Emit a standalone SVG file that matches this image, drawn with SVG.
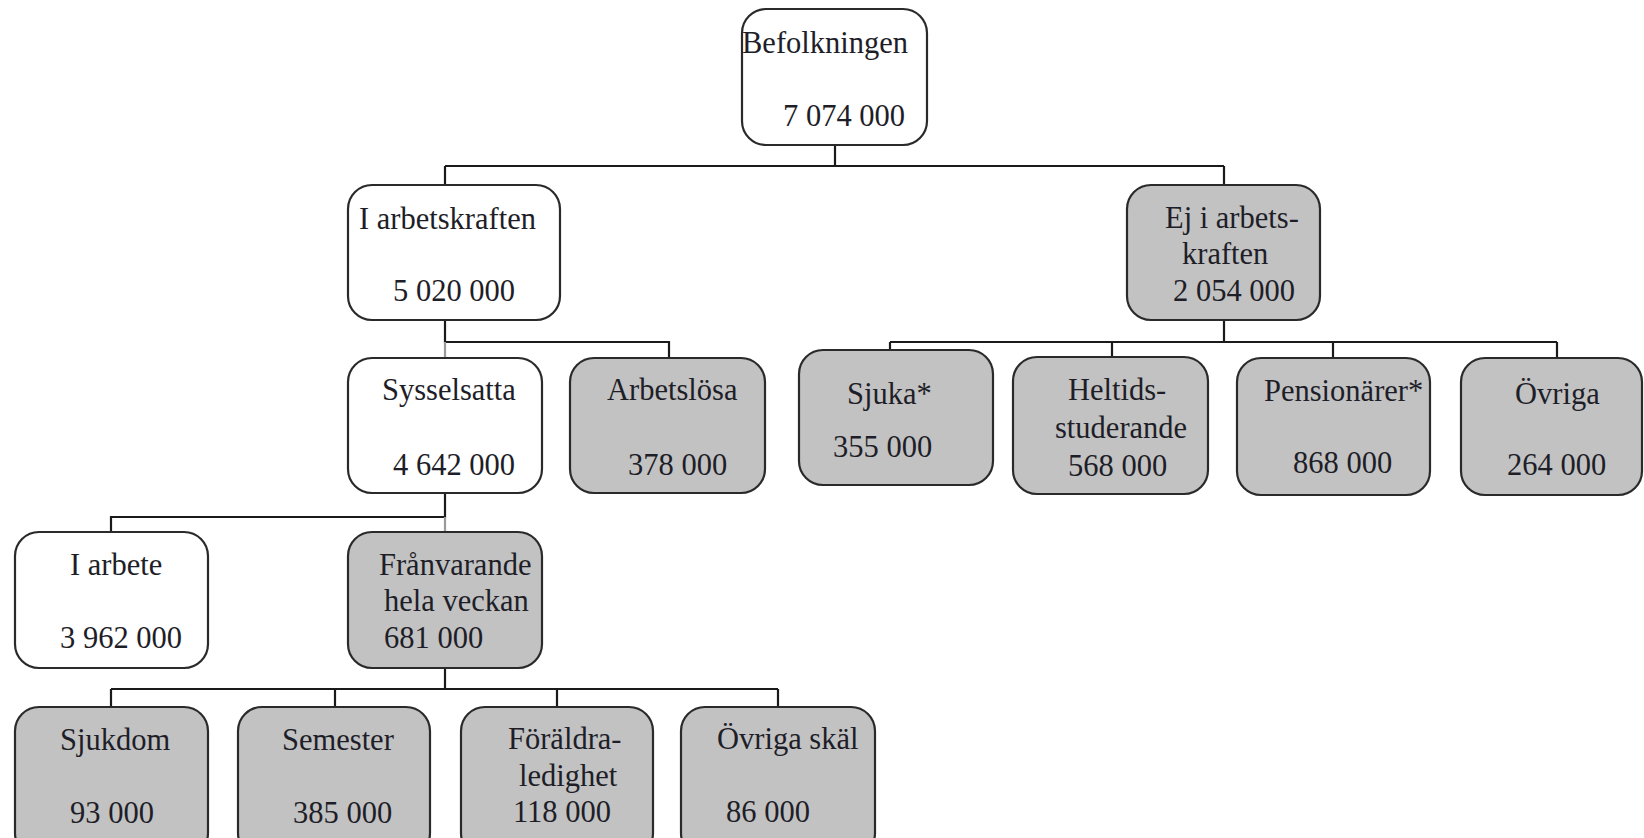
<svg xmlns="http://www.w3.org/2000/svg" width="1644" height="838" viewBox="0 0 1644 838">
<style>
.box{stroke:#2a2a2a;stroke-width:2.2}
.w{fill:#ffffff}
.g{fill:#c2c2c2}
.t{font-family:"Liberation Serif","Times New Roman",serif;font-size:30.5px;fill:#1e1e28}
.c{fill:none;stroke:#1a1a1a;stroke-width:2.2}
.cg{fill:none;stroke:#9a9a9a;stroke-width:2.2}
</style>
<rect width="1644" height="838" fill="#ffffff"/>
<g id="connectors">
<path class="c" d="M835 145V166M445 166H1224M445 166V185M1224 166V185"/>
<path class="c" d="M445 320V342H669V358"/>
<path class="cg" d="M445 342V358"/>
<path class="c" d="M1224 320V342M890 342H1557M890 342V350M1112 342V357M1333 342V358M1557 342V358"/>
<path class="c" d="M445 493V517H111V532"/>
<path class="cg" d="M445 517V532"/>
<path class="c" d="M445 668V689M111 689H778M111 689V707M335 689V707M557 689V707M778 689V707"/>
</g>
<g id="befolkningen">
<rect class="box w" x="742" y="9" width="185" height="136" rx="24"/>
<text class="t" x="742" y="53">Befolkningen</text>
<text class="t" x="783" y="126">7 074 000</text>
</g>
<g id="i-arbetskraften">
<rect class="box w" x="348" y="185" width="212" height="135" rx="24"/>
<text class="t" x="359" y="229">I arbetskraften</text>
<text class="t" x="393" y="301">5 020 000</text>
</g>
<g id="ej-i-arbetskraften">
<rect class="box g" x="1127" y="185" width="193" height="135" rx="24"/>
<text class="t" x="1165" y="228">Ej i arbets-</text>
<text class="t" x="1182" y="264">kraften</text>
<text class="t" x="1173" y="301">2 054 000</text>
</g>
<g id="sysselsatta">
<rect class="box w" x="348" y="358" width="194" height="135" rx="24"/>
<text class="t" x="382" y="400">Sysselsatta</text>
<text class="t" x="393" y="475">4 642 000</text>
</g>
<g id="arbetslosa">
<rect class="box g" x="570" y="358" width="195" height="135" rx="24"/>
<text class="t" x="607" y="400">Arbetslösa</text>
<text class="t" x="628" y="475">378 000</text>
</g>
<g id="sjuka">
<rect class="box g" x="799" y="350" width="194" height="135" rx="24"/>
<text class="t" x="847" y="404">Sjuka*</text>
<text class="t" x="833" y="457">355 000</text>
</g>
<g id="heltidsstuderande">
<rect class="box g" x="1013" y="357" width="195" height="137" rx="24"/>
<text class="t" x="1068" y="400">Heltids-</text>
<text class="t" x="1055" y="438">studerande</text>
<text class="t" x="1068" y="476">568 000</text>
</g>
<g id="pensionarer">
<rect class="box g" x="1237" y="358" width="193" height="137" rx="24"/>
<text class="t" x="1264" y="401">Pensionärer*</text>
<text class="t" x="1293" y="473">868 000</text>
</g>
<g id="ovriga">
<rect class="box g" x="1461" y="358" width="181" height="137" rx="24"/>
<text class="t" x="1515" y="404">Övriga</text>
<text class="t" x="1507" y="475">264 000</text>
</g>
<g id="i-arbete">
<rect class="box w" x="15" y="532" width="193" height="136" rx="24"/>
<text class="t" x="70" y="575">I arbete</text>
<text class="t" x="60" y="648">3 962 000</text>
</g>
<g id="franvarande">
<rect class="box g" x="348" y="532" width="194" height="136" rx="24"/>
<text class="t" x="379" y="575">Frånvarande</text>
<text class="t" x="384" y="611">hela veckan</text>
<text class="t" x="384" y="648">681 000</text>
</g>
<g id="sjukdom">
<rect class="box g" x="15" y="707" width="193" height="150" rx="24"/>
<text class="t" x="60" y="750">Sjukdom</text>
<text class="t" x="70" y="823">93 000</text>
</g>
<g id="semester">
<rect class="box g" x="238" y="707" width="192" height="150" rx="24"/>
<text class="t" x="282" y="750">Semester</text>
<text class="t" x="293" y="823">385 000</text>
</g>
<g id="foraldraledighet">
<rect class="box g" x="461" y="707" width="192" height="150" rx="24"/>
<text class="t" x="508" y="749">Föräldra-</text>
<text class="t" x="519" y="786">ledighet</text>
<text class="t" x="513" y="822">118 000</text>
</g>
<g id="ovriga-skal">
<rect class="box g" x="681" y="707" width="194" height="150" rx="24"/>
<text class="t" x="717" y="749">Övriga skäl</text>
<text class="t" x="726" y="822">86 000</text>
</g>
</svg>
